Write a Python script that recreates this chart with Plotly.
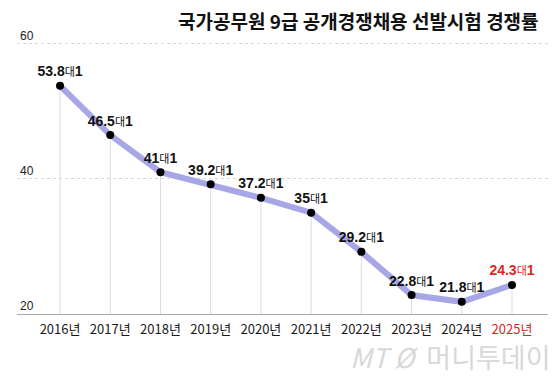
import plotly.graph_objects as go

years = ["2016", "2017", "2018", "2019", "2020", "2021", "2022", "2023", "2024", "2025"]
rates = [53.8, 46.5, 41.0, 39.2, 37.2, 35.0, 29.2, 22.8, 21.8, 24.3]
rate_labels = ["53.8", "46.5", "41", "39.2", "37.2", "35", "29.2", "22.8", "21.8", "24.3"]
year_suffix = "년"
rate_suffix = "대1"
title_text = "국가공무원 9급 공개경쟁채용 선발시험 경쟁률"
y_ticks = [20, 40, 60]

BASE = 20
RED = "#e0261f"
DARK = "#111111"
FONT = "Liberation Sans, Noto Sans CJK KR, sans-serif"
KFONT = "Noto Sans CJK KR, sans-serif"

last = len(years) - 1

def label_html(num, i):
    col = RED if i == last else DARK
    return (f"<span style='color:{col}'><b>{num}</b>"
            f"<span style='font-size:11px'>대</span><b>1</b></span>")

texts = [label_html(n, i) for i, n in enumerate(rate_labels)]
tick_text = [
    (f"<span style='color:{RED}'>{y}{year_suffix}</span>" if i == last else f"{y}{year_suffix}")
    for i, y in enumerate(years)
]

# figure-pixel geometry (page body has an 8px margin)
L, R, T, B = 9, 20, 19, 78
W, H = 560, 384
plot_w = W - L - R
plot_h = H - T - B

fig = go.Figure()

# drop lines from each point to the baseline
fig.add_trace(go.Scatter(
    x=years, y=rates, mode="markers",
    marker=dict(size=1, color="rgba(0,0,0,0)"),
    error_y=dict(type="data", symmetric=False,
                 array=[0] * len(rates),
                 arrayminus=[r - BASE for r in rates],
                 color="#dcdcdc", thickness=1, width=0),
    hoverinfo="skip", showlegend=False,
))

fig.add_trace(go.Scatter(
    x=years, y=rates, mode="lines+markers+text",
    line=dict(color="#a7a7e8", width=6),
    marker=dict(color="#000000", size=8),
    text=texts, textposition="top center",
    textfont=dict(family=FONT, size=14, color=DARK),
    cliponaxis=False,
    showlegend=False,
))

fig.update_layout(
    width=W, height=H,
    margin=dict(l=L, r=R, t=T, b=B, autoexpand=False),
    paper_bgcolor="white", plot_bgcolor="white",
    font=dict(family=FONT, color="#222"),
    xaxis=dict(
        type="category", range=[-0.857, 9.717],
        tickvals=years, ticktext=tick_text,
        tickfont=dict(family=KFONT, size=13, color="#1a1a1a"),
        showgrid=False, zeroline=False,
        showline=True, linecolor="#aaaaaa", linewidth=1,
        ticks="outside", ticklen=3, tickcolor="rgba(0,0,0,0)",
        automargin=False, fixedrange=True,
    ),
    yaxis=dict(
        range=[20, 62.5], tickvals=y_ticks,
        ticklabelposition="inside top",
        tickfont=dict(family=FONT, size=12, color="#222222"),
        showgrid=True, gridcolor="#d6d6d6", griddash="dot", gridwidth=1,
        zeroline=False, showline=False, ticks="",
        automargin=False, fixedrange=True,
    ),
    annotations=[
        dict(text=f"<b>{title_text}</b>", xref="paper", yref="paper",
             x=(533 - L) / plot_w, y=1, yshift=7, xanchor="right", yanchor="middle",
             showarrow=False, font=dict(family=KFONT, size=19, color="#111")),
        dict(text="<i>MT</i> <i>Ø</i>  머니투데이", xref="paper", yref="paper",
             x=(545 - L) / plot_w, y=0, yshift=-42, xanchor="right", yanchor="middle",
             showarrow=False, font=dict(family=KFONT, size=27, color="#d8d8d8")),
    ],
)

fig.write_html("out.html")
